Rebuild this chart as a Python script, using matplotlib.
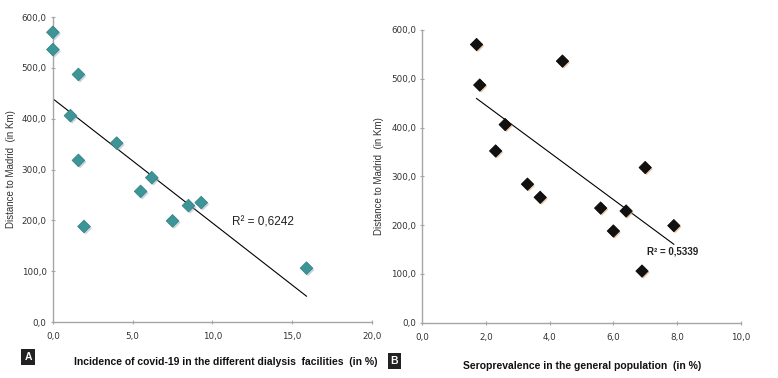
import numpy as np
import matplotlib
matplotlib.use('Agg')
import matplotlib.pyplot as plt
import matplotlib.patheffects as pe
from matplotlib.ticker import FuncFormatter

# distance of each dialysis facility to Madrid (km), same order in both panels
distance = [570, 536, 487, 406, 352, 318, 284, 257, 229, 235, 199, 188, 106]
# panel A: incidence of covid-19 in dialysis facilities (%)
incidence = [0.0, 0.0, 1.6, 1.1, 4.0, 1.6, 6.2, 5.5, 8.5, 9.3, 7.5, 1.95, 15.9]
# panel B: seroprevalence in general population (%)
seroprev = [1.7, 4.4, 1.8, 2.6, 2.3, 7.0, 3.3, 3.7, 6.4, 5.6, 7.9, 6.0, 6.9]

r2_a = '0,6242'
r2_b = '0,5339'

plt.rcParams['font.family'] = ['Liberation Sans', 'DejaVu Sans']

comma = FuncFormatter(lambda v, p: f'{v:.1f}'.replace('.', ','))


def style_ax(ax, xmax, xstep):
    ax.set_xlim(0, xmax)
    ax.set_ylim(0, 600)
    ax.set_xticks(np.arange(0, xmax + 0.01, xstep))
    ax.set_yticks(np.arange(0, 601, 100))
    ax.xaxis.set_major_formatter(comma)
    ax.yaxis.set_major_formatter(comma)
    for s in ['top', 'right']:
        ax.spines[s].set_visible(False)
    for s in ['left', 'bottom']:
        ax.spines[s].set_color('#a6a6a6')
        ax.spines[s].set_linewidth(1.0)
    ax.tick_params(axis='both', labelsize=6.3, colors='#a6a6a6',
                   labelcolor='#333333', length=3, direction='inout', pad=3)
    ax.tick_params(axis='x', pad=6)
    for lab in ax.get_xticklabels() + ax.get_yticklabels():
        lab.set_family('DejaVu Sans')
    ax.patch.set_alpha(0)


def trend(ax, x, y):
    x = np.array(x, dtype=float)
    y = np.array(y, dtype=float)
    k, b = np.polyfit(x, y, 1)
    xs = np.array([x.min(), x.max()])
    ax.plot(xs, k * xs + b, color='black', lw=0.8, zorder=2)


fig = plt.figure(figsize=(7.78, 3.78), dpi=100)

# panel A
axA = fig.add_axes([0.068, 0.148, 0.410, 0.807])
style_ax(axA, 20, 5)
trend(axA, incidence, distance)
axA.scatter(incidence, distance, marker='D', s=42, color='#3d9597',
            edgecolors='#2f7f82', linewidths=0.5, zorder=3, clip_on=False,
            path_effects=[pe.SimplePatchShadow(offset=(1.2, -1.2), shadow_rgbFace='#9ab', alpha=0.5), pe.Normal()])
axA.text(11.2, 195, 'R² = ' + r2_a, fontsize=8.5, color='#222222', va='center')
axA.set_ylabel('Distance to Madrid  (in Km)', fontsize=7, color='#333333')
axA.yaxis.set_label_coords(-0.115, 0.5)
fig.text(0.29, 0.042, 'Incidence of covid-19 in the different dialysis  facilities  (in %)',
         fontsize=7.5, fontweight='bold', ha='center', va='center', color='#111111')
fig.text(0.036, 0.055, 'A', fontsize=7.5, fontweight='bold', color='white', ha='center', va='center',
         bbox=dict(boxstyle='square,pad=0.3', fc='#222222', ec='none'))

# panel B
axB = fig.add_axes([0.543, 0.146, 0.409, 0.775])
style_ax(axB, 10, 2)
trend(axB, seroprev, distance)
axB.scatter(seroprev, distance, marker='D', s=40, color='#111111',
            edgecolors='#000000', linewidths=0.5, zorder=3, clip_on=False,
            path_effects=[pe.SimplePatchShadow(offset=(1.0, -1.0), shadow_rgbFace='#d9a070', alpha=0.6), pe.Normal()])
axB.text(7.06, 147, 'R² = ' + r2_b, fontsize=7, fontweight='bold', color='#222222', va='center')
axB.set_ylabel('Distance to Madrid  (in Km)', fontsize=7, color='#333333')
axB.yaxis.set_label_coords(-0.12, 0.5)
fig.text(0.748, 0.033, 'Seroprevalence in the general population  (in %)',
         fontsize=7.5, fontweight='bold', ha='center', va='center', color='#111111')
fig.text(0.507, 0.045, 'B', fontsize=7.5, fontweight='bold', color='white', ha='center', va='center',
         bbox=dict(boxstyle='square,pad=0.3', fc='#222222', ec='none'))

fig.savefig('out.png', dpi=100, facecolor='white')
